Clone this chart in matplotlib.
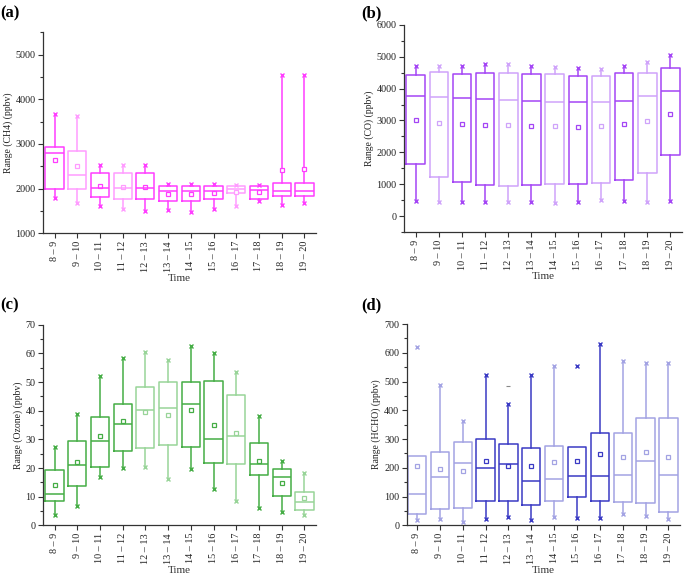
import matplotlib
matplotlib.use("Agg")
import matplotlib.pyplot as plt
from matplotlib.ticker import MultipleLocator

plt.rcParams['font.family'] = ['Liberation Serif', 'DejaVu Serif']

labels = ["8 – 9", "9 – 10", "10 – 11", "11 – 12", "12 – 13", "13 – 14",
          "14 – 15", "15 – 16", "16 – 17", "17 – 18", "18 – 19", "19 – 20"]

# ---- (a) CH4 ----
ch4_min = [1793, 1681, 1615, 1548, 1496, 1526, 1481, 1541, 1607, 1719, 1637, 1667]
ch4_q1 = [2000, 2000, 1807, 1763, 1763, 1719, 1719, 1770, 1904, 1770, 1837, 1837]
ch4_med = [2807, 2296, 2015, 2015, 2015, 1948, 1948, 1948, 1985, 1978, 1956, 1956]
ch4_q3 = [2926, 2844, 2348, 2348, 2348, 2059, 2059, 2059, 2052, 2052, 2126, 2126]
ch4_max = [3674, 3615, 2526, 2526, 2526, 2111, 2111, 2111, 2089, 2089, 4548, 4548]
ch4_whishi = ch4_max
ch4_mean = [2644, 2496, 2067, 2037, 2030, 1881, 1874, 1896, 1933, 1933, 2422, 2428]

# ---- (b) CO ----
co_min = [462, 441, 431, 431, 431, 431, 420, 431, 504, 473, 441, 473]
co_q1 = [1639, 1229, 1061, 977, 956, 977, 998, 998, 1040, 1134, 1355, 1922]
co_med = [3771, 3739, 3697, 3666, 3634, 3603, 3582, 3582, 3582, 3603, 3771, 3918]
co_q3 = [4422, 4506, 4464, 4496, 4485, 4464, 4464, 4391, 4401, 4496, 4496, 4653]
co_max = [4695, 4716, 4716, 4758, 4779, 4716, 4674, 4653, 4601, 4716, 4842, 5053]
co_whishi = co_max
co_mean = [3015, 2920, 2878, 2857, 2847, 2826, 2815, 2805, 2826, 2889, 2994, 3204]

# ---- (c) Ozone ----
o3_min = [3.7, 6.9, 16.7, 20.0, 20.4, 16.2, 19.5, 12.8, 8.4, 6.1, 4.5, 3.5]
o3_q1 = [8.4, 13.7, 20.3, 25.9, 27.0, 28.1, 27.4, 21.8, 21.5, 17.6, 10.3, 5.4]
o3_med = [10.9, 21.1, 29.4, 35.3, 40.4, 41.1, 42.5, 30.1, 31.3, 21.4, 16.9, 8.3]
o3_q3 = [19.2, 29.3, 37.9, 42.4, 48.4, 50.1, 50.2, 50.5, 45.5, 28.9, 19.5, 11.7]
o3_max = [27.4, 38.9, 52.1, 58.5, 60.6, 57.9, 62.7, 60.0, 53.6, 38.3, 22.4, 18.4]
o3_whishi = o3_max
o3_mean = [14.0, 22.1, 31.3, 36.6, 39.4, 38.5, 40.4, 35.2, 32.1, 22.4, 14.9, 9.5]

# ---- (d) HCHO ----
hcho_min = [18, 21, 11, 23, 29, 20, 29, 24, 24, 38, 32, 21]
hcho_q1 = [39, 55, 61, 86, 83, 69, 83, 97, 85, 80, 77, 45]
hcho_med = [110, 167, 218, 198, 214, 154, 161, 171, 171, 175, 223, 175]
hcho_q3 = [240, 256, 291, 299, 282, 268, 275, 271, 322, 322, 374, 374]
hcho_whishi = [240, 487, 362, 523, 423, 523, 555, 271, 630, 570, 564, 563]
hcho_max = [620, 487, 362, 523, 423, 523, 555, 553, 630, 570, 564, 563]
hcho_mean = [206, 195, 189, 225, 207, 207, 221, 223, 247, 238, 256, 236]
hcho_extra = [None, None, None, None, 483, None, None, None, None, None, None, None]

panels = [
    dict(tag="(a)", ylabel="Range (CH4) (ppbv)",
         data=(ch4_min, ch4_q1, ch4_med, ch4_q3, ch4_whishi, ch4_max, ch4_mean, None),
         ylim=(1000, 5500), major=1000, minor=500, yt0=1000, yt1=5000,
         pos=[0.063, 0.595, 0.398, 0.349], xlim=(0.5, 12.5),
         dark="#FF3DFF", light="#FF9CFF",
         shade=[1, 0, 1, 0, 1, 1, 1, 1, 0, 1, 1, 1], tagxy=(0.0, 0.99)),
    dict(tag="(b)", ylabel="Range (CO) (ppbv)",
         data=(co_min, co_q1, co_med, co_q3, co_whishi, co_max, co_mean, None),
         ylim=(-500, 6000), major=1000, minor=500, yt0=0, yt1=6000,
         pos=[0.590, 0.597, 0.4056, 0.36], xlim=(0.5, 12.5),
         dark="#A445F5", light="#CFA3FA",
         shade=[1, 0, 1, 1, 0, 1, 0, 1, 0, 1, 0, 1], tagxy=(0.527, 0.99)),
    dict(tag="(c)", ylabel="Range (Ozone) (ppbv)",
         data=(o3_min, o3_q1, o3_med, o3_q3, o3_whishi, o3_max, o3_mean, None),
         ylim=(0, 70), major=10, minor=5, yt0=0, yt1=70,
         pos=[0.063, 0.088, 0.398, 0.348], xlim=(0.5, 12.5),
         dark="#45AD45", light="#98D498",
         shade=[1, 1, 1, 1, 0, 0, 1, 1, 0, 1, 1, 0], tagxy=(0.0, 0.483)),
    dict(tag="(d)", ylabel="Range (HCHO) (ppbv)",
         data=(hcho_min, hcho_q1, hcho_med, hcho_q3, hcho_whishi, hcho_max, hcho_mean, hcho_extra),
         ylim=(0, 700), major=100, minor=50, yt0=0, yt1=700,
         pos=[0.594, 0.088, 0.3985, 0.3495], xlim=(0.56, 12.5),
         dark="#3A3AC4", light="#A3A3E3",
         shade=[0, 0, 0, 1, 1, 1, 0, 1, 1, 0, 0, 0], tagxy=(0.527, 0.483)),
]

fig = plt.figure(figsize=(6.85, 5.76), dpi=100)
positions = list(range(1, len(labels) + 1))

for p in panels:
    ax = fig.add_axes(p["pos"])
    mn, q1, med, q3, whi, mx, mean, extra = p["data"]
    for i, x in enumerate(positions):
        col = p["dark"] if p["shade"][i] else p["light"]
        st = dict(med=med[i], q1=q1[i], q3=q3[i], whislo=mn[i], whishi=whi[i],
                  mean=mean[i], fliers=[], label=labels[i])
        ax.bxp([st], positions=[x], widths=0.8, showmeans=False, showcaps=False,
               showfliers=False, patch_artist=False,
               boxprops=dict(color=col, linewidth=1.1),
               whiskerprops=dict(color=col, linewidth=1.1),
               medianprops=dict(color=col, linewidth=1.1))
        ax.plot([x], [mean[i]], marker="s", ms=2.8, mfc="white", mec=col, mew=0.9, ls="none")
        ax.plot([x, x], [mn[i], mx[i]], marker="x", ms=2.8, mec=col, mew=1.0, ls="none")
        if extra is not None and extra[i] is not None:
            ax.plot([x], [extra[i]], marker="_", ms=2.5, mec="#888888", mew=0.8, ls="none")
    ax.set_xlim(*p["xlim"])
    ax.set_ylim(*p["ylim"])
    ax.set_xticks(positions)
    ax.set_xticklabels(labels, rotation=90, fontsize=7.3)
    yt = list(range(p["yt0"], p["yt1"] + 1, p["major"]))
    ax.set_yticks(yt)
    ax.yaxis.set_minor_locator(MultipleLocator(p["minor"]))
    ax.tick_params(axis="y", labelsize=7.3, direction="out", length=3.5, width=0.8,
                   colors="#333333", pad=2)
    ax.tick_params(axis="y", which="minor", length=2, width=0.8, colors="#333333")
    ax.tick_params(axis="x", direction="out", length=3.5, width=0.8, colors="#333333", pad=2)
    for lab in ax.get_xticklabels() + ax.get_yticklabels():
        lab.set_color("#222222")
    for s in ["top", "right"]:
        ax.spines[s].set_visible(False)
    for s in ["left", "bottom"]:
        ax.spines[s].set_linewidth(0.9)
        ax.spines[s].set_color("#333333")
    ax.set_ylabel(p["ylabel"], fontsize=7, color="#222222", labelpad=2)
    ax.set_xlabel("Time", fontsize=8, color="#333333", labelpad=1.5)
    fig.text(p["tagxy"][0], p["tagxy"][1], p["tag"], fontsize=12, fontweight="bold",
             ha="left", va="top")

fig.savefig("out.png", dpi=100)
